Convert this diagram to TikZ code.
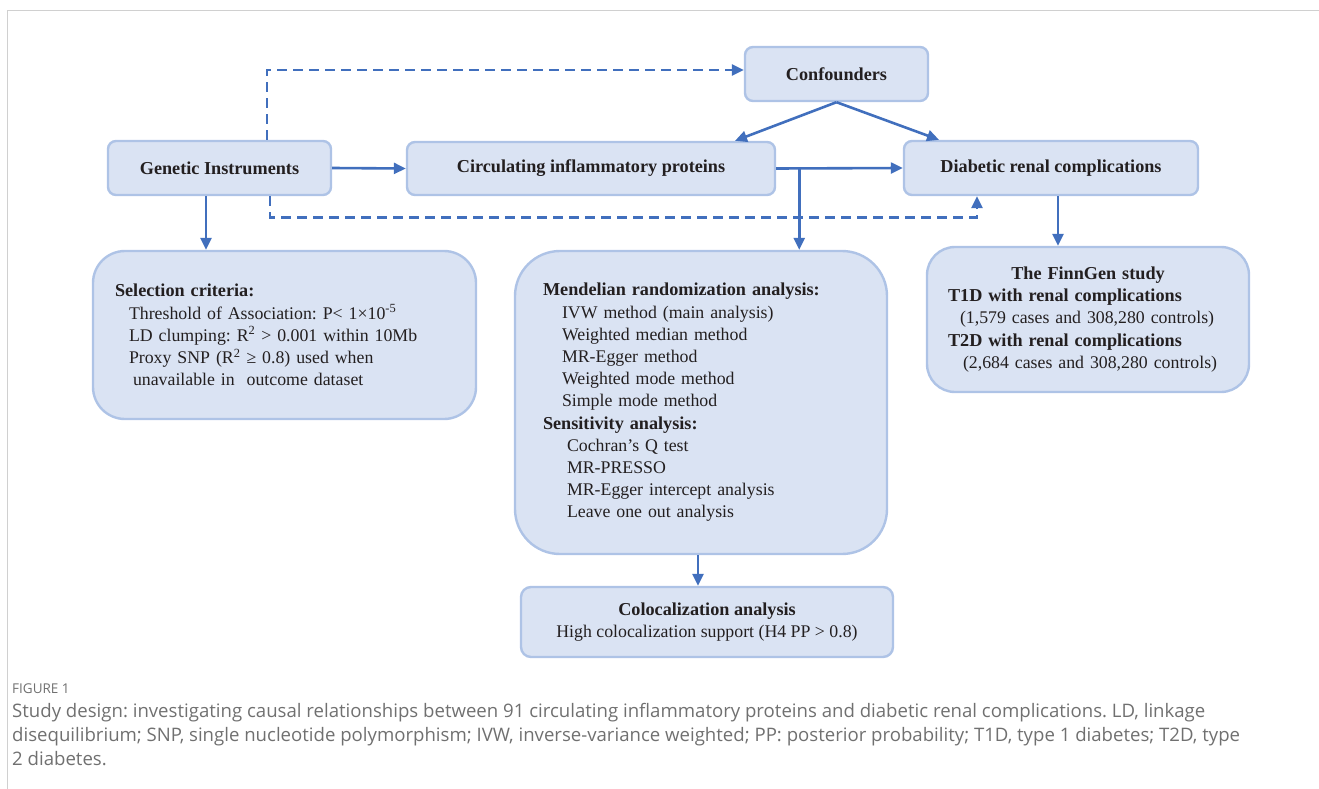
\documentclass[tikz,border=0pt]{standalone}
\usepackage{fontspec}
\setmainfont{Liberation Serif}
\newfontfamily\capfont{Open Sans}
\usetikzlibrary{arrows.meta,positioning,calc}
\definecolor{boxfill}{HTML}{DAE3F3}
\definecolor{boxline}{HTML}{AEC3E6}
\definecolor{arrblue}{HTML}{416FBD}
\definecolor{txtdark}{HTML}{231F20}
\definecolor{capgray}{HTML}{707070}
\definecolor{framegray}{HTML}{D0D0D0}
\newcommand{\hd}[1]{{\fontsize{18.2}{22.2}\selectfont\bfseries #1}}
\frenchspacing

\begin{document}
\begin{tikzpicture}[x=1pt,y=-1pt,
  font=\fontsize{17.8}{22.2}\selectfont,
  box/.style={draw=boxline,fill=boxfill,line width=2.4pt,rounded corners=8pt,
    align=center,text=txtdark,font=\fontsize{18.2}{22.2}\selectfont\bfseries},
  listbox/.style={draw=boxline,fill=boxfill,line width=2.4pt,align=left,
    text=txtdark,inner ysep=0pt},
  arr/.style={draw=arrblue,line width=2.6pt,-{Triangle[length=12pt,width=11pt]}},
  dasharr/.style={arr,dash pattern=on 10pt off 6pt},
  >={Triangle[length=12pt,width=11pt]}]
  \useasboundingbox (0,0) rectangle (1319,789);
  \draw[framegray,line width=1pt] (7,789) -- (7,11) -- (1319,11);

  % top row
  \node[box,minimum width=183pt,minimum height=54pt] (conf) at (836.5,74) {Confounders};
  \node[box,minimum width=223pt,minimum height=54pt] (gen) at (219.5,168) {Genetic Instruments};
  \node[box,minimum width=368pt,minimum height=53pt] (circ) at (591,168.5) {Circulating inflammatory proteins};
  \node[box,minimum width=294pt,minimum height=54pt] (diab) at (1051,168) {Diabetic renal complications};

  % detail boxes
  \node[listbox,rounded corners=32pt,minimum height=168pt,inner xsep=22pt,text width=339pt] (sel) at (284.5,335)
    {\hd{Selection criteria:}\\
     \hspace*{14pt}Threshold of Association: P< 1×10\textsuperscript{-5}\\
     \hspace*{14pt}LD clumping: R\textsuperscript{2} > 0.001 within 10Mb\\
     \hspace*{14pt}Proxy SNP (R\textsuperscript{2} ≥ 0.8) used when\\
     \hspace*{18pt}unavailable in\ \ outcome dataset};
  \node[listbox,rounded corners=45pt,minimum height=303pt,inner xsep=28pt,text width=316pt] (mr) at (701,402.5)
    {\hd{Mendelian randomization analysis:}\\
     \hspace*{19pt}IVW method (main analysis)\\
     \hspace*{19pt}Weighted median method\\
     \hspace*{19pt}MR-Egger method\\
     \hspace*{19pt}Weighted mode method\\
     \hspace*{19pt}Simple mode method\\
     \hd{Sensitivity analysis:}\\
     \hspace*{24pt}Cochran’s Q test\\
     \hspace*{24pt}MR-PRESSO\\
     \hspace*{24pt}MR-Egger intercept analysis\\
     \hspace*{24pt}Leave one out analysis};
  \node[listbox,rounded corners=28pt,minimum height=145pt,inner xsep=21pt,text width=280pt] (finn) at (1088,319.5)
    {\makebox[\linewidth]{\hd{The FinnGen study}}\\
     \hd{T1D with renal complications}\\
     \hspace*{12pt}(1,579 cases and 308,280 controls)\\
     \hd{T2D with renal complications}\\
     \hspace*{15pt}(2,684 cases and 308,280 controls)};
  \node[listbox,rounded corners=10pt,minimum width=372pt,minimum height=70pt,align=center] (coloc) at (707,622)
    {\hd{Colocalization analysis}\\
     High colocalization support (H4 PP > 0.8)};

  % connectors
  \draw[arr] (gen.east) -- (circ.west);
  \draw[arr] (circ.east) -- (diab.west);
  \coordinate (br) at ([xshift=23pt]circ.east);
  \draw[arr] (br) -- (br |- mr.north);
  \draw[arr] (conf.south) -- ([xshift=144pt]circ.north);
  \draw[arr] (conf.south) -- ([xshift=-112pt]diab.north);
  \draw[arr] ([xshift=-13.5pt]gen.south) -- ([xshift=-13.5pt]gen.south |- sel.north);
  \draw[arr] ([xshift=7pt]diab.south) -- ([xshift=7pt]diab.south |- finn.north);
  \draw[arr] ([xshift=-3pt]mr.south) -- ([xshift=-3pt]mr.south |- coloc.north);
  \draw[dasharr] ([xshift=47.5pt]gen.north) |- ([yshift=4pt]conf.west);
  \draw[dasharr] ([xshift=50.5pt]gen.south) -- ++(0,21) -| ([xshift=-74pt]diab.south);

  % caption
  \node[anchor=base west,inner sep=0pt,text=capgray,font=\capfont\fontsize{13.5}{15}\selectfont] (fig) at (12,693) {FIGURE 1};
  \node[anchor=base west,inner sep=0pt,align=left,text=capgray,font=\capfont\fontsize{18.6}{24}\selectfont] (cap) at (12,765)
    {Study design: investigating causal relationships between 91 circulating inflammatory proteins and diabetic renal complications. LD, linkage\\
     disequilibrium; SNP, single nucleotide polymorphism; IVW, inverse-variance weighted; PP: posterior probability; T1D, type 1 diabetes; T2D, type\\
     2 diabetes.};
\end{tikzpicture}
\end{document}
